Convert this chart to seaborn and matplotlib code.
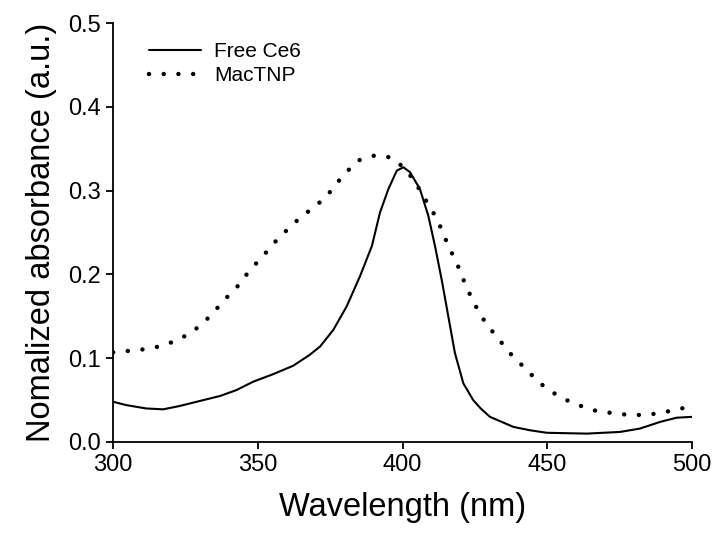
import numpy as np
import pandas as pd
import matplotlib
matplotlib.use("Agg")
import matplotlib.pyplot as plt
import seaborn as sns

# Free Ce6 absorbance
ce6_wl = [300, 304.6, 311.5, 317.3, 323, 330, 337, 342.6, 348.4, 355.3, 362.2, 367.9,
          371.5, 376.1, 380.7, 385.3, 389.4, 392.2, 395.1, 398, 400.3, 402.6, 406, 408.9,
          411.2, 413.5, 415.8, 418.1, 421, 424.4, 427, 430.2, 438.3, 444, 449.8, 463.6,
          475.1, 482, 489, 494.7, 500]
ce6_abs = [0.048, 0.044, 0.040, 0.039, 0.043, 0.049, 0.055, 0.062, 0.072, 0.081, 0.091,
           0.104, 0.114, 0.134, 0.162, 0.198, 0.234, 0.274, 0.302, 0.324, 0.328, 0.322,
           0.302, 0.270, 0.234, 0.194, 0.150, 0.106, 0.070, 0.050, 0.040, 0.030, 0.018,
           0.014, 0.011, 0.010, 0.012, 0.016, 0.024, 0.029, 0.030]

# MacTNP absorbance
mac_wl = [300, 306, 311.5, 317.3, 323, 327.6, 333.5, 338, 343, 347, 352, 356.5, 361.5,
          366, 369.6, 374.8, 379.4, 384.6, 390.3, 395.5, 399, 403.7, 407.1, 410.6, 413.5,
          415.8, 418.7, 421, 423.3, 426.2, 429.1, 432.5, 437.1, 442.3, 447.5, 453.3, 459,
          467, 476, 484, 491, 499]
mac_abs = [0.107, 0.109, 0.111, 0.115, 0.123, 0.132, 0.150, 0.168, 0.186, 0.204, 0.223,
           0.241, 0.258, 0.272, 0.280, 0.298, 0.318, 0.336, 0.342, 0.340, 0.332, 0.314,
           0.294, 0.274, 0.254, 0.234, 0.214, 0.194, 0.176, 0.156, 0.140, 0.126, 0.106,
           0.088, 0.070, 0.056, 0.046, 0.037, 0.033, 0.032, 0.036, 0.042]

ce6 = pd.DataFrame({'wl': ce6_wl, 'abs': ce6_abs})
mac = pd.DataFrame({'wl': mac_wl, 'abs': mac_abs})

sns.set_style("ticks")
plt.rcParams['font.family'] = ['Liberation Sans', 'DejaVu Sans']
plt.rcParams.update({'text.color': 'black', 'axes.labelcolor': 'black',
                     'xtick.color': 'black', 'ytick.color': 'black'})

fig, ax = plt.subplots(figsize=(7.16, 5.40), dpi=100)
fig.subplots_adjust(left=0.158, right=0.9665, bottom=0.1815, top=0.957)

dots = (0, (0.01, 3.3))

sns.lineplot(data=ce6, x='wl', y='abs', ax=ax, color='black', lw=1.5, label='Free Ce6')
sns.lineplot(data=mac, x='wl', y='abs', ax=ax, color='black', lw=3.2, label='MacTNP')
dot_line = ax.lines[1]
dot_line.set_linestyle(dots)
dot_line.set_dash_capstyle('round')

ax.set_xlim(300, 500)
ax.set_ylim(0, 0.5)
ax.set_xticks([300, 350, 400, 450, 500])
ax.set_yticks([0.0, 0.1, 0.2, 0.3, 0.4, 0.5])
ax.yaxis.set_major_formatter(matplotlib.ticker.FormatStrFormatter('%.1f'))
ax.tick_params(labelsize=17, length=5, width=1.3, color='black')
for s in ['left', 'bottom']:
    ax.spines[s].set_linewidth(1.3)
    ax.spines[s].set_color('black')
sns.despine(ax=ax)

ax.set_xlabel('Wavelength (nm)', fontsize=23.5, labelpad=12)
ax.set_ylabel('Nomalized absorbance (a.u.)', fontsize=23.5, labelpad=8)

leg = ax.legend(loc='upper left', bbox_to_anchor=(0.03, 1.0), frameon=False, fontsize=15,
                handlelength=2.5, handletextpad=0.6, labelspacing=0.25)
leg.get_lines()[1].set_linestyle(dots)
leg.get_lines()[1].set_dash_capstyle('round')

fig.savefig('out.png', dpi=100)
